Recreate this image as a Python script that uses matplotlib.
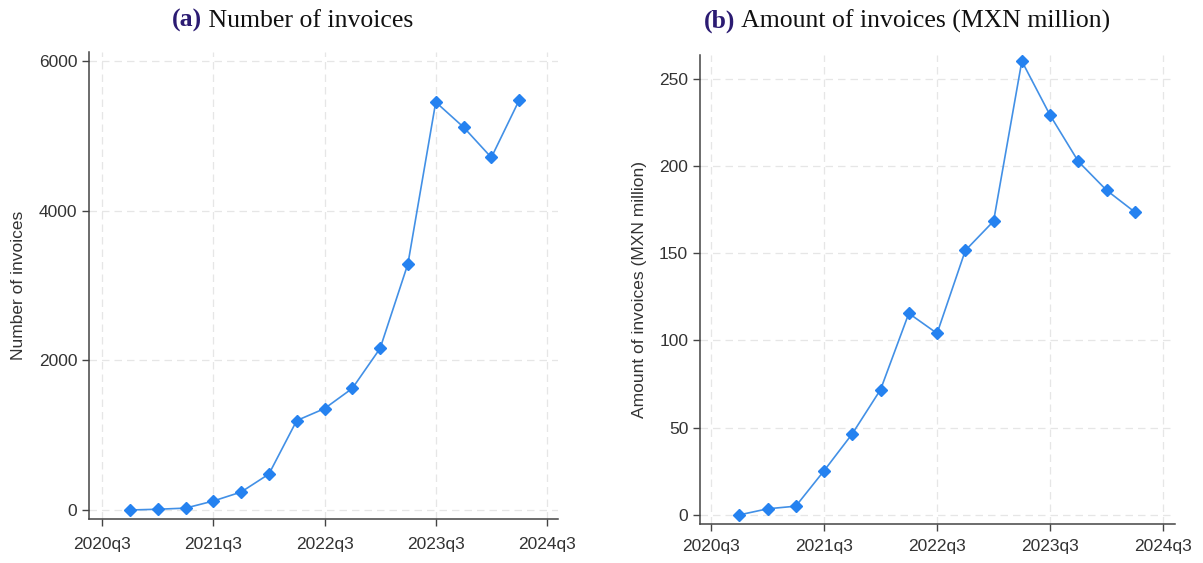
import matplotlib
matplotlib.use('Agg')
from matplotlib import pyplot as plt

quarters = ['2020q4', '2021q1', '2021q2', '2021q3', '2021q4', '2022q1', '2022q2', '2022q3',
            '2022q4', '2023q1', '2023q2', '2023q3', '2023q4', '2024q1', '2024q2']
n_invoices = [0, 10, 25, 120, 240, 480, 1195, 1355, 1625, 2160, 3290, 5450, 5115, 4710, 5475]
amount_mxn = [0, 3.5, 5, 25.3, 46.5, 71.8, 115.5, 104, 151.5, 168.3, 260, 229, 202.5, 186, 173.5]

xtick_labels = ['2020q3', '2021q3', '2022q3', '2023q3', '2024q3']
yticks_a = [0, 2000, 4000, 6000]
yticks_b = [0, 50, 100, 150, 200, 250]


def qnum(q):
    # quarters counted from 2020q3
    y, k = int(q[:4]), int(q[5])
    return (y - 2020) * 4 + (k - 3)


plt.rcParams['font.family'] = ['Liberation Sans', 'DejaVu Sans']

fig = plt.figure(figsize=(12.03, 5.63), dpi=100)
ax1 = fig.add_axes([0.074, 0.0782, 0.3899, 0.8295])
ax2 = fig.add_axes([0.5819, 0.0693, 0.3948, 0.833])

line_col = '#4290e6'
mark_col = '#2582f0'
txt_col = '#333333'

panels = [
    (ax1, n_invoices, yticks_a, (-120, 6120), (-0.47, 16.4), 'Number of invoices', 8),
    (ax2, amount_mxn, yticks_b, (-5.2, 263.5), (-0.39, 16.42), 'Amount of invoices (MXN million)', 6),
]

for ax, vals, yt, ylim, xlim, ylab, xpad in panels:
    xs = [qnum(q) for q in quarters]
    ax.plot(xs, vals, color=line_col, lw=1.2, marker='D', markersize=5.8,
            markerfacecolor=mark_col, markeredgecolor=mark_col, zorder=3)
    ax.set_xticks([qnum(t) for t in xtick_labels])
    ax.set_xticklabels(xtick_labels)
    ax.set_yticks(yt)
    ax.set_xlim(*xlim)
    ax.set_ylim(*ylim)
    ax.grid(True, color='#e6e6e6', lw=0.9, ls=(0, (6, 4)))
    ax.set_axisbelow(True)
    for s in ['top', 'right']:
        ax.spines[s].set_visible(False)
    for s in ['left', 'bottom']:
        ax.spines[s].set_color('#444444')
        ax.spines[s].set_linewidth(1.1)
    ax.tick_params(direction='out', length=5, width=1, colors='#444444',
                   labelcolor=txt_col, labelsize=12.5)
    ax.tick_params(axis='x', pad=xpad)
    ax.set_ylabel(ylab, fontsize=12.5, color=txt_col, labelpad=9)

# panel titles: bold coloured tag + serif caption, centred as a pair
title_font = ['Liberation Serif', 'DejaVu Serif']
renderer = fig.canvas.get_renderer()
W = fig.get_figwidth() * fig.dpi
for tag, caption, xc in [('(a)', 'Number of invoices', 0.243),
                         ('(b)', 'Amount of invoices (MXN million)', 0.754)]:
    t1 = fig.text(0, 0.963, tag, fontsize=18.5, fontweight='bold', color='#2b1b72',
                  family=title_font, ha='left', va='center')
    t2 = fig.text(0, 0.963, ' ' + caption, fontsize=18.5, color='#111111',
                  family=title_font, ha='left', va='center')
    w1 = t1.get_window_extent(renderer).width / W
    w2 = t2.get_window_extent(renderer).width / W
    x0 = xc - (w1 + w2) / 2
    t1.set_x(x0)
    t2.set_x(x0 + w1)

plt.savefig('out.png', dpi=100)
